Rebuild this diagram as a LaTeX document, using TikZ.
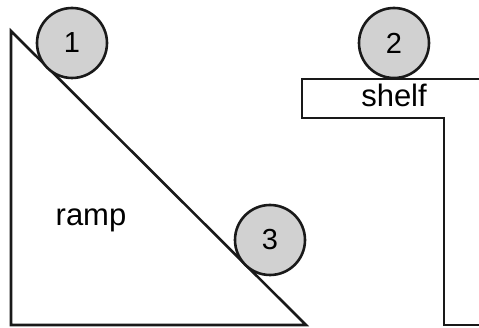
\documentclass[tikz,border=0pt]{standalone}
\usepackage{fontspec}
\setmainfont{Liberation Sans}
\begin{document}
\begin{tikzpicture}[x=1pt,y=-1pt,
  edge/.style={draw=black!90, line width=2.6pt, line join=miter},
  ball/.style={circle, draw=black!90, line width=2.6pt, fill=black!18, minimum size=70pt, inner sep=0pt, font=\fontsize{29}{29}\selectfont},
  lbl/.style={font=\fontsize{31}{31}\selectfont, inner sep=0pt, anchor=base}]
\useasboundingbox (0,0) rectangle (479,328);
% ramp
\draw[edge] (11,31) -- (306,325) -- (11,325) -- cycle;
% shelf
\draw[edge] (479,79) -- (302,79) -- (302,118) -- (444,118) -- (444,325) -- (479,325);
\node[ball] (b1) at (72,43) {1};
\node[ball] (b2) at (394,43) {2};
\node[ball] (b3) at (270,240) {3};
\node[lbl] (shelf) at (394,107) {shelf};
\node[lbl] (ramp) at (91,226) {ramp};
\end{tikzpicture}
\end{document}
